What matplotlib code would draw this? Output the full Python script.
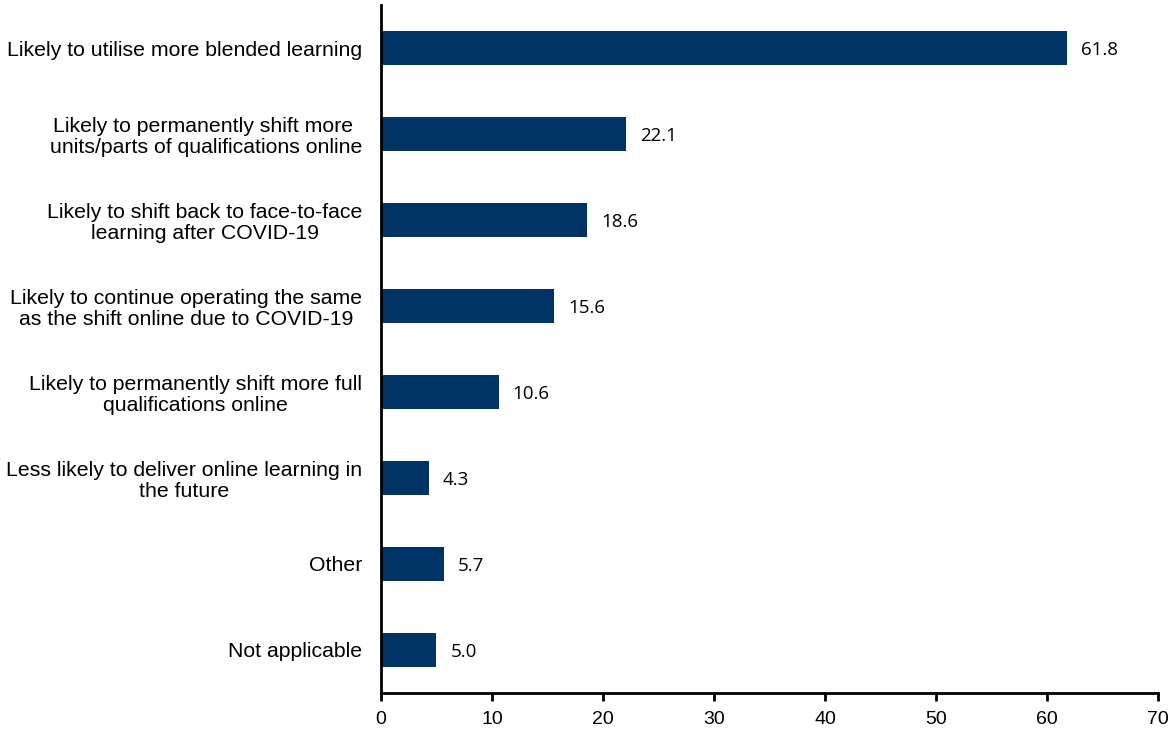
import matplotlib
matplotlib.use("Agg")
import matplotlib.pyplot as plt

categories = [
    "Likely to utilise more blended learning",
    "Likely to permanently shift more \nunits/parts of qualifications online",
    "Likely to shift back to face-to-face\nlearning after COVID-19",
    "Likely to continue operating the same\nas the shift online due to COVID-19",
    "Likely to permanently shift more full\nqualifications online",
    "Less likely to deliver online learning in\nthe future",
    "Other",
    "Not applicable",
]
values = [61.8, 22.1, 18.6, 15.6, 10.6, 4.3, 5.7, 5.0]
xticks = [0, 10, 20, 30, 40, 50, 60, 70]

bar_color = "#003466"

fig = plt.figure(figsize=(11.7, 7.29), dpi=100)
ax = fig.add_axes([0.3256, 0.0494, 0.9897 - 0.3256, 0.9931 - 0.0494])

y = list(range(len(categories)))
bars = ax.barh(y, values, height=0.39, color=bar_color)

ax.set_ylim(len(categories) - 0.5, -0.5)
ax.set_xlim(0, 70)
ax.set_xticks(xticks)
ax.set_xticklabels([str(t) for t in xticks], fontsize=14, family="Liberation Sans")
ax.set_yticks(y)
ax.set_yticklabels(categories, fontsize=15.3, family="Liberation Sans",
                   multialignment="center", linespacing=1.12)
ax.tick_params(axis="y", length=0, pad=13.5)
ax.tick_params(axis="x", direction="out", length=5.5, width=2, pad=7.5)

for side in ("top", "right"):
    ax.spines[side].set_visible(False)
for side in ("left", "bottom"):
    ax.spines[side].set_linewidth(2)

for rect, v in zip(bars, values):
    ax.annotate(f"{v:.1f}", xy=(v, rect.get_y() + rect.get_height() / 2),
                xytext=(14, -2), textcoords="offset pixels",
                va="center", ha="left", fontsize=13.5, family="Open Sans")

fig.savefig("out.png", dpi=100)
